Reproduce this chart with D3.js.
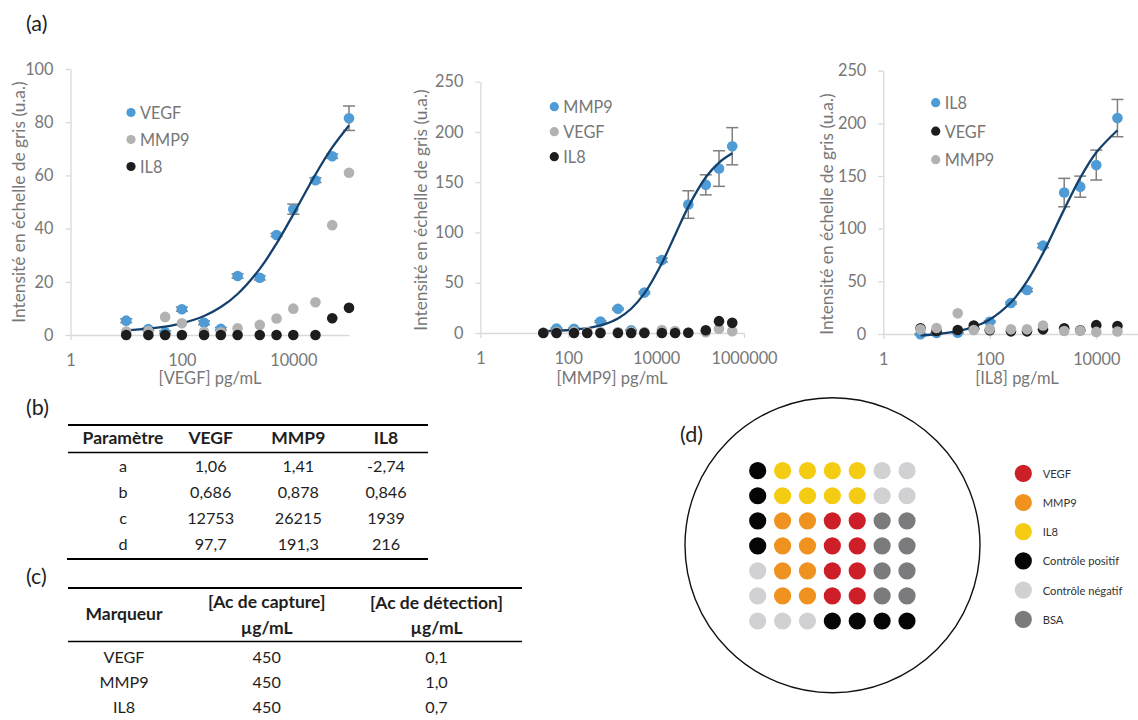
<!DOCTYPE html>
<html><head><meta charset="utf-8">
<script src="https://cdn.jsdelivr.net/npm/d3@7"></script>
<style>
body{margin:0;background:#fff}
svg{display:block}
text{font-family:Lato,"Open Sans",sans-serif}
</style>
</head><body>
<svg id="fig" width="1138" height="720"></svg>
<script>
// ---------- DATA ----------
// Panel (a) left: VEGF calibration
const concVEGF = [10,25,50,100,250,500,1000,2500,5000,10000,25000,50000,100000];
const p1VEGF = [5.4,2.2,1.0,9.7,4.6,2.3,22.2,21.5,37.6,47.3,58.2,67.2,81.5];
const p1VEGFerr = [0.7,0.5,0.5,0.8,0.7,0.5,0.8,0.8,0.6,1.9,0.9,0.8,4.6];
const p1MMP9 = [1.3,1.5,6.8,4.4,1.2,1.0,2.5,3.8,6.2,9.9,12.3,41.3,61];
const p1IL8  = [0,0,0,0,0,0,0,0,0,0,0,6.3,10.2];
const p1Fit  = [1.77,2.38,3.17,4.41,7.16,10.51,15.41,24.87,34.38,45.36,60.34,70.5,78.78];

// Panel (a) middle: MMP9 calibration
const concMMP9all = [27,54,135,270,540,1350,2700,5400,13500,27000,54000,135000,270000,540000];
const concMMP9 = [54,135,540,1350,2700,5400,13500,54000,135000,270000,540000];
const p2MMP9 = [4.4,4.3,11.5,24.0,2.7,40.2,72.5,127.8,147.4,163.6,185.8];
const p2MMP9err = [0.6,0.6,0.8,0.9,0.5,1.0,2.0,13.7,10.0,17.7,18.5];
const p2VEGF = [0.5,1.0,1.5,1.0,1.0,1.0,1.5,1.0,3.0,2.0,0.5,0.8,4.2,1.8];
const p2IL8  = [0,0,0,0,0,0,0,0,0,0,0.3,2.7,11.8,10.1];
const p2Fit  = [1.86,2.24,3.25,4.77,7.49,14.49,24.13,39.36,69.45,97.59,125.5,154.9,169.6,178.84];

// Panel (a) right: IL8 calibration
const concIL8 = [5,10,25,50,100,250,500,1000,2500,5000,10000,25000];
const p3IL8 = [-0.3,0.9,1.2,5.0,11.7,29.4,41.8,83.9,134.3,139.9,160.4,205];
const p3IL8err = [0.5,0.5,0.5,0.5,0.8,1.0,1.5,2.0,13.5,10.0,14.2,17.7];
const p3VEGF = [5.4,2.8,3.8,8.0,3.5,2.5,2.5,4.4,5.5,3.5,8.4,7.6];
const p3MMP9 = [4.4,5.7,19.6,3.8,4.6,4.4,4.4,8.0,2.8,3.2,2.0,2.4];
const p3Fit  = [-1.34,-0.23,2.64,6.74,13.73,30.12,50.0,76.77,118.34,148.25,172.3,193.44];

// tick labels
const yTicks100 = [0,20,40,60,80,100];
const yTicks250 = [0,50,100,150,200,250];
const xTicksA = [1,100,10000];
const xTicksB = [1,100,10000,1000000];

// Panel (b): 4PL parameters
const paramHeader = ["Paramètre","VEGF","MMP9","IL8"];
const paramNames = ["a","b","c","d"];
const paramVEGF = ["1,06","0,686","12753","97,7"];
const paramMMP9 = ["1,41","0,878","26215","191,3"];
const paramIL8  = ["-2,74","0,846","1939","216"];

// Panel (c): antibody concentrations
const markers = ["VEGF","MMP9","IL8"];
const captureConc = ["450","450","450"];
const detectionConc = ["0,1","1,0","0,7"];

// Panel (d): array layout
const spotCategories = ["VEGF","MMP9","IL8","Contrôle positif","Contrôle négatif","BSA"];
const arrayLayout = [
  ["Contrôle positif","IL8","IL8","IL8","IL8","Contrôle négatif","Contrôle négatif"],
  ["Contrôle positif","IL8","IL8","IL8","IL8","Contrôle négatif","Contrôle négatif"],
  ["Contrôle positif","MMP9","MMP9","VEGF","VEGF","BSA","BSA"],
  ["Contrôle positif","MMP9","MMP9","VEGF","VEGF","BSA","BSA"],
  ["Contrôle négatif","MMP9","MMP9","VEGF","VEGF","BSA","BSA"],
  ["Contrôle négatif","MMP9","MMP9","VEGF","VEGF","BSA","BSA"],
  ["Contrôle négatif","Contrôle négatif","Contrôle négatif","Contrôle positif","Contrôle positif","Contrôle positif","Contrôle positif"]
];

// ---------- STYLE ----------
const BLUE = "#4e9bd6", GREY = "#b2b2b2", BLACK = "#1d1d1d", FIT = "#14406c";
const AXIS = "#d9d9d9", TXT = "#777777", ERR = "#7f7f7f";
const spotColor = d3.scaleOrdinal().domain(spotCategories)
  .range(["#cc1f27","#f0921f","#f5cc14","#050505","#d1d1d3","#7b7b7d"]);

const svg = d3.select("#fig");
svg.append("rect").attr("width",1138).attr("height",720).attr("fill","#fff");

function drawChart(cfg){
  const x = d3.scaleLog().domain(cfg.xDomain).range(cfg.xRange);
  const y = d3.scaleLinear().domain([0,cfg.yMax]).range(cfg.yRange);
  const g = svg.append("g");

  const gy = g.append("g").attr("transform",`translate(${cfg.xRange[0]},0)`)
    .call(d3.axisLeft(y).tickValues(cfg.yTicks).tickSize(5).tickSizeOuter(0).tickPadding(12).tickFormat(d3.format("d")));
  const gx = g.append("g").attr("transform",`translate(0,${y(0)})`)
    .call(d3.axisBottom(x).tickValues(cfg.xTicks).tickSize(5).tickSizeOuter(0).tickPadding(14).tickFormat(d3.format("d")));
  [gx,gy].forEach(a=>{
    a.select(".domain").attr("stroke",AXIS).attr("stroke-width",1.3);
    a.selectAll(".tick line").attr("stroke",AXIS).attr("stroke-width",1.3);
    a.selectAll("text").attr("fill",TXT).attr("font-size",16.3).style("font-family","Lato");
  });

  // axis titles
  g.append("text").attr("x",cfg.xTitlePos[0]).attr("y",cfg.xTitlePos[1])
    .attr("text-anchor","middle").attr("fill",TXT).attr("font-size",16.5).text(cfg.xTitle);
  g.append("text").attr("transform",`translate(${cfg.yTitlePos[0]},${cfg.yTitlePos[1]}) rotate(-90)`)
    .attr("text-anchor","middle").attr("dominant-baseline","central")
    .attr("fill",TXT).attr("font-size",17.3).text("Intensité en échelle de gris (u.a.)");

  const main = cfg.series[0];
  // error bars
  const eb = g.append("g").attr("stroke",ERR).attr("stroke-width",1.5);
  main.x.forEach((cx,i)=>{
    const e = main.err[i], v = main.y[i];
    const px = x(cx);
    eb.append("line").attr("x1",px).attr("x2",px).attr("y1",y(v-e)).attr("y2",y(v+e));
    eb.append("line").attr("x1",px-6).attr("x2",px+6).attr("y1",y(v-e)).attr("y2",y(v-e));
    eb.append("line").attr("x1",px-6).attr("x2",px+6).attr("y1",y(v+e)).attr("y2",y(v+e));
  });
  // main points
  g.append("g").selectAll("circle").data(main.x.map((cx,i)=>[cx,main.y[i]])).join("circle")
    .attr("cx",d=>x(d[0])).attr("cy",d=>y(d[1])).attr("r",5.3).attr("fill",main.color);
  // fit curve
  g.append("path").datum(cfg.fit.x.map((cx,i)=>[cx,cfg.fit.y[i]]))
    .attr("fill","none").attr("stroke",FIT).attr("stroke-width",2.3)
    .attr("d",d3.line().x(d=>x(d[0])).y(d=>y(d[1])).curve(d3.curveCatmullRom.alpha(0.5)));
  // other series
  cfg.series.slice(1).forEach(s=>{
    g.append("g").selectAll("circle").data(s.x.map((cx,i)=>[cx,s.y[i]])).join("circle")
      .attr("cx",d=>x(d[0])).attr("cy",d=>y(d[1])).attr("r",5.3).attr("fill",s.color);
  });
  // legend
  const lg = g.append("g");
  cfg.series.forEach((s,i)=>{
    const ly = cfg.legendPos[1] + i*cfg.legendStep;
    lg.append("circle").attr("cx",cfg.legendPos[0]).attr("cy",ly).attr("r",4.6).attr("fill",s.color);
    lg.append("text").attr("x",cfg.legendPos[0]+9).attr("y",ly).attr("dominant-baseline","central")
      .attr("fill",TXT).attr("font-size",16.3).text(s.name);
  });
}

drawChart({
  xDomain:[1,100000], xRange:[70.5,349], yMax:100, yRange:[335,69],
  yTicks:yTicks100, xTicks:xTicksA,
  xTitle:"[VEGF] pg/mL", xTitlePos:[210,384], yTitlePos:[18,202],
  series:[
    {name:"VEGF", x:concVEGF, y:p1VEGF, err:p1VEGFerr, color:BLUE},
    {name:"MMP9", x:concVEGF, y:p1MMP9, color:GREY},
    {name:"IL8",  x:concVEGF, y:p1IL8,  color:BLACK}],
  fit:{x:concVEGF, y:p1Fit},
  legendPos:[131,112.5], legendStep:27
});
drawChart({
  xDomain:[1,1000000], xRange:[480.4,744], yMax:250, yRange:[333,81.7],
  yTicks:yTicks250, xTicks:xTicksB,
  xTitle:"[MMP9] pg/mL", xTitlePos:[612,384], yTitlePos:[420,210],
  series:[
    {name:"MMP9", x:concMMP9, y:p2MMP9, err:p2MMP9err, color:BLUE},
    {name:"VEGF", x:concMMP9all, y:p2VEGF, color:GREY},
    {name:"IL8",  x:concMMP9all, y:p2IL8,  color:BLACK}],
  fit:{x:concMMP9all, y:p2Fit},
  legendPos:[554.3,106.7], legendStep:25
});
drawChart({
  xDomain:[1,100000], xRange:[883.3,1149.5], yMax:250, yRange:[334,70.7],
  yTicks:yTicks250, xTicks:xTicksA,
  xTitle:"[IL8] pg/mL", xTitlePos:[1017,384], yTitlePos:[826,214],
  series:[
    {name:"IL8",  x:concIL8, y:p3IL8, err:p3IL8err, color:BLUE},
    {name:"VEGF", x:concIL8, y:p3VEGF, color:BLACK},
    {name:"MMP9", x:concIL8, y:p3MMP9, color:GREY}],
  fit:{x:concIL8, y:p3Fit},
  legendPos:[935.7,102.7], legendStep:28.5
});

// panel labels
const LBL = "#222";
[["(a)",26,23],["(b)",26,407],["(c)",26,576],["(d)",680,434]].forEach(([t,lx,ly])=>{
  svg.append("text").attr("x",lx).attr("y",ly).attr("dominant-baseline","central")
    .attr("fill",LBL).attr("font-size",21.5).text(t);
});

// ---------- Table (b) ----------
const TT = "#1e1e1e";
const tb = svg.append("g").attr("font-size",16.2).attr("fill",TT);
const colB = d3.scalePoint().domain(paramHeader).range([123,386]);
const rowB = d3.scalePoint().domain(paramNames).range([465,543.5]);
tb.append("line").attr("x1",68).attr("x2",428).attr("y1",425).attr("y2",425).attr("stroke","#000").attr("stroke-width",2);
tb.append("line").attr("x1",68).attr("x2",428).attr("y1",452.5).attr("y2",452.5).attr("stroke","#000").attr("stroke-width",1.6);
tb.append("line").attr("x1",67).attr("x2",428).attr("y1",559).attr("y2",559).attr("stroke","#000").attr("stroke-width",2);
paramHeader.forEach(h=>{
  tb.append("text").attr("x",colB(h)).attr("y",437.5).attr("text-anchor","middle")
    .attr("dominant-baseline","central").attr("font-weight","bold").attr("font-size",17.5).text(h);
});
const paramCols = [paramNames,paramVEGF,paramMMP9,paramIL8];
paramNames.forEach((p,i)=>{
  paramCols.forEach((col,j)=>{
    tb.append("text").attr("x",colB(paramHeader[j])).attr("y",rowB(p)).attr("text-anchor","middle")
      .attr("dominant-baseline","central").text(col[i]);
  });
});

// ---------- Table (c) ----------
const tc = svg.append("g").attr("font-size",16.2).attr("fill",TT);
const colC = [124,266.7,436.5];
const rowC = d3.scalePoint().domain(markers).range([656,706]);
tc.append("line").attr("x1",68).attr("x2",522).attr("y1",588).attr("y2",588).attr("stroke","#000").attr("stroke-width",2);
tc.append("line").attr("x1",68).attr("x2",522).attr("y1",641.5).attr("y2",641.5).attr("stroke","#000").attr("stroke-width",1.6);
[["Marqueur",colC[0],613],["[Ac de capture]",colC[1],601.5],["µg/mL",colC[1],627],
 ["[Ac de détection]",colC[2],602.5],["µg/mL",colC[2],627]].forEach(([t,tx,ty])=>{
  tc.append("text").attr("x",tx).attr("y",ty).attr("text-anchor","middle")
    .attr("dominant-baseline","central").attr("font-weight","bold").attr("font-size",17.5).text(t);
});
markers.forEach((m,i)=>{
  [m,captureConc[i],detectionConc[i]].forEach((v,j)=>{
    tc.append("text").attr("x",colC[j]).attr("y",rowC(m)).attr("text-anchor","middle")
      .attr("dominant-baseline","central").text(v);
  });
});

// ---------- Panel (d) ----------
const gd = svg.append("g");
gd.append("circle").attr("cx",832.5).attr("cy",545.2).attr("r",147.5)
  .attr("fill","none").attr("stroke","#111").attr("stroke-width",1.4);
const gxs = d3.scalePoint().domain(d3.range(7)).range([757.7,907]);
const gys = d3.scalePoint().domain(d3.range(7)).range([470.7,621]);
arrayLayout.forEach((row,r)=>{
  row.forEach((cat,c)=>{
    gd.append("circle").attr("cx",gxs(c)).attr("cy",gys(r)).attr("r",8.6).attr("fill",spotColor(cat));
  });
});
const legY = d3.scalePoint().domain(spotCategories).range([473.3,619.3]);
spotCategories.forEach(cat=>{
  gd.append("circle").attr("cx",1023.3).attr("cy",legY(cat)).attr("r",8.6).attr("fill",spotColor(cat));
  gd.append("text").attr("x",1042.7).attr("y",legY(cat)).attr("dominant-baseline","central")
    .attr("fill","#333").attr("font-size",11.2).text(cat);
});
</script>
</body></html>
